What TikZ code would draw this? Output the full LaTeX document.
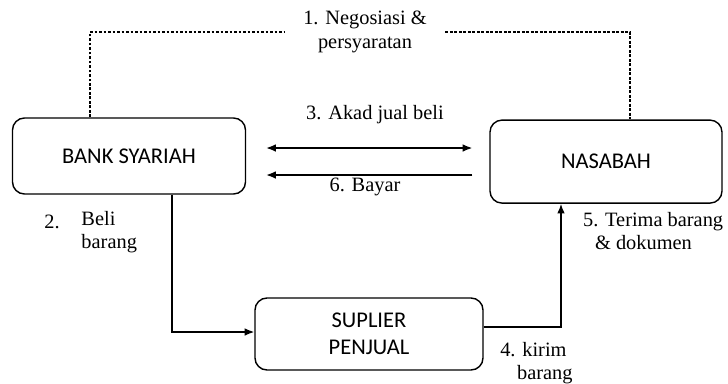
\documentclass[tikz,border=0pt]{standalone}
\usepackage{fontspec}
\setmainfont{Liberation Serif}
\newfontfamily\boxfont{Carlito}
\usetikzlibrary{positioning, arrows.meta}

\begin{document}
\begin{tikzpicture}[
   kotak/.style={draw, rounded corners=0.3cm, line width=1pt, align=center,
      font=\boxfont\fontsize{16}{19}\selectfont},
   ket/.style={inner sep=0pt, font=\fontsize{14.5}{16.5}\selectfont},
   garis/.style={line width=1pt},
   putus/.style={line width=0.8pt, dash pattern=on 2pt off 1.2pt},
   panah/.style={line width=1pt, -{Latex[length=2.4mm, width=1.9mm]}}]
\useasboundingbox (0,0) rectangle (18.2,-9.575);
\node[kotak, minimum width=5.825cm, minimum height=1.9cm] (bank) at (3.225,-3.9) {BANK SYARIAH};
\node[kotak, minimum width=5.8cm, minimum height=2.075cm] (nasabah) at (15.15,-4.04) {NASABAH};
\node[kotak, minimum width=5.7cm, minimum height=1.8cm] (suplier) at (9.225,-8.35) {SUPLIER\\PENJUAL};
\node[ket, align=center, minimum width=4cm] (nego) at (9.125,-0.8) {1. Negosiasi \&\\persyaratan};
\node[ket] (akad) at (9.375,-2.875) {3. Akad jual beli};
\node[ket] (bayar) at (9.125,-4.675) {6. Bayar};
\node[ket] (dua) at (1.3,-5.55) {2.};
\node[ket, align=left, anchor=west] (beli) at (2.03,-5.8) {Beli\\barang};
\node[ket, align=left, anchor=west] (terima) at (14.57,-5.775) {5. Terima barang\\\hspace{0.3cm}\& dokumen};
\node[ket, align=left, anchor=west] (kirim) at (12.5,-9.07) {4. kirim\\\hspace{0.42cm}barang};
\coordinate (atas) at (0,-3.7);
\coordinate (bawah) at (0,-4.375);
\coordinate (kiri) at (4.3,0);
\coordinate (kanan) at (14.025,0);
\draw[putus] (bank.north -| 2.25,0) |- (nego.west);
\draw[putus] (nego.east) -| (nasabah.north -| 15.75,0);
\draw[panah, {Latex[length=2.4mm, width=1.9mm]}-{Latex[length=2.4mm, width=1.9mm]}, shorten <=0.5cm, shorten >=0.425cm] (bank.east |- atas) -- (nasabah.west |- atas);
\draw[panah, shorten <=0.425cm, shorten >=0.5cm] (nasabah.west |- bawah) -- (bank.east |- bawah);
\draw[panah] (bank.south -| kiri) |- ([yshift=0.05cm]suplier.west);
\draw[panah] ([yshift=0.18cm]suplier.east) -| (nasabah.south -| kanan);
\end{tikzpicture}
\end{document}
